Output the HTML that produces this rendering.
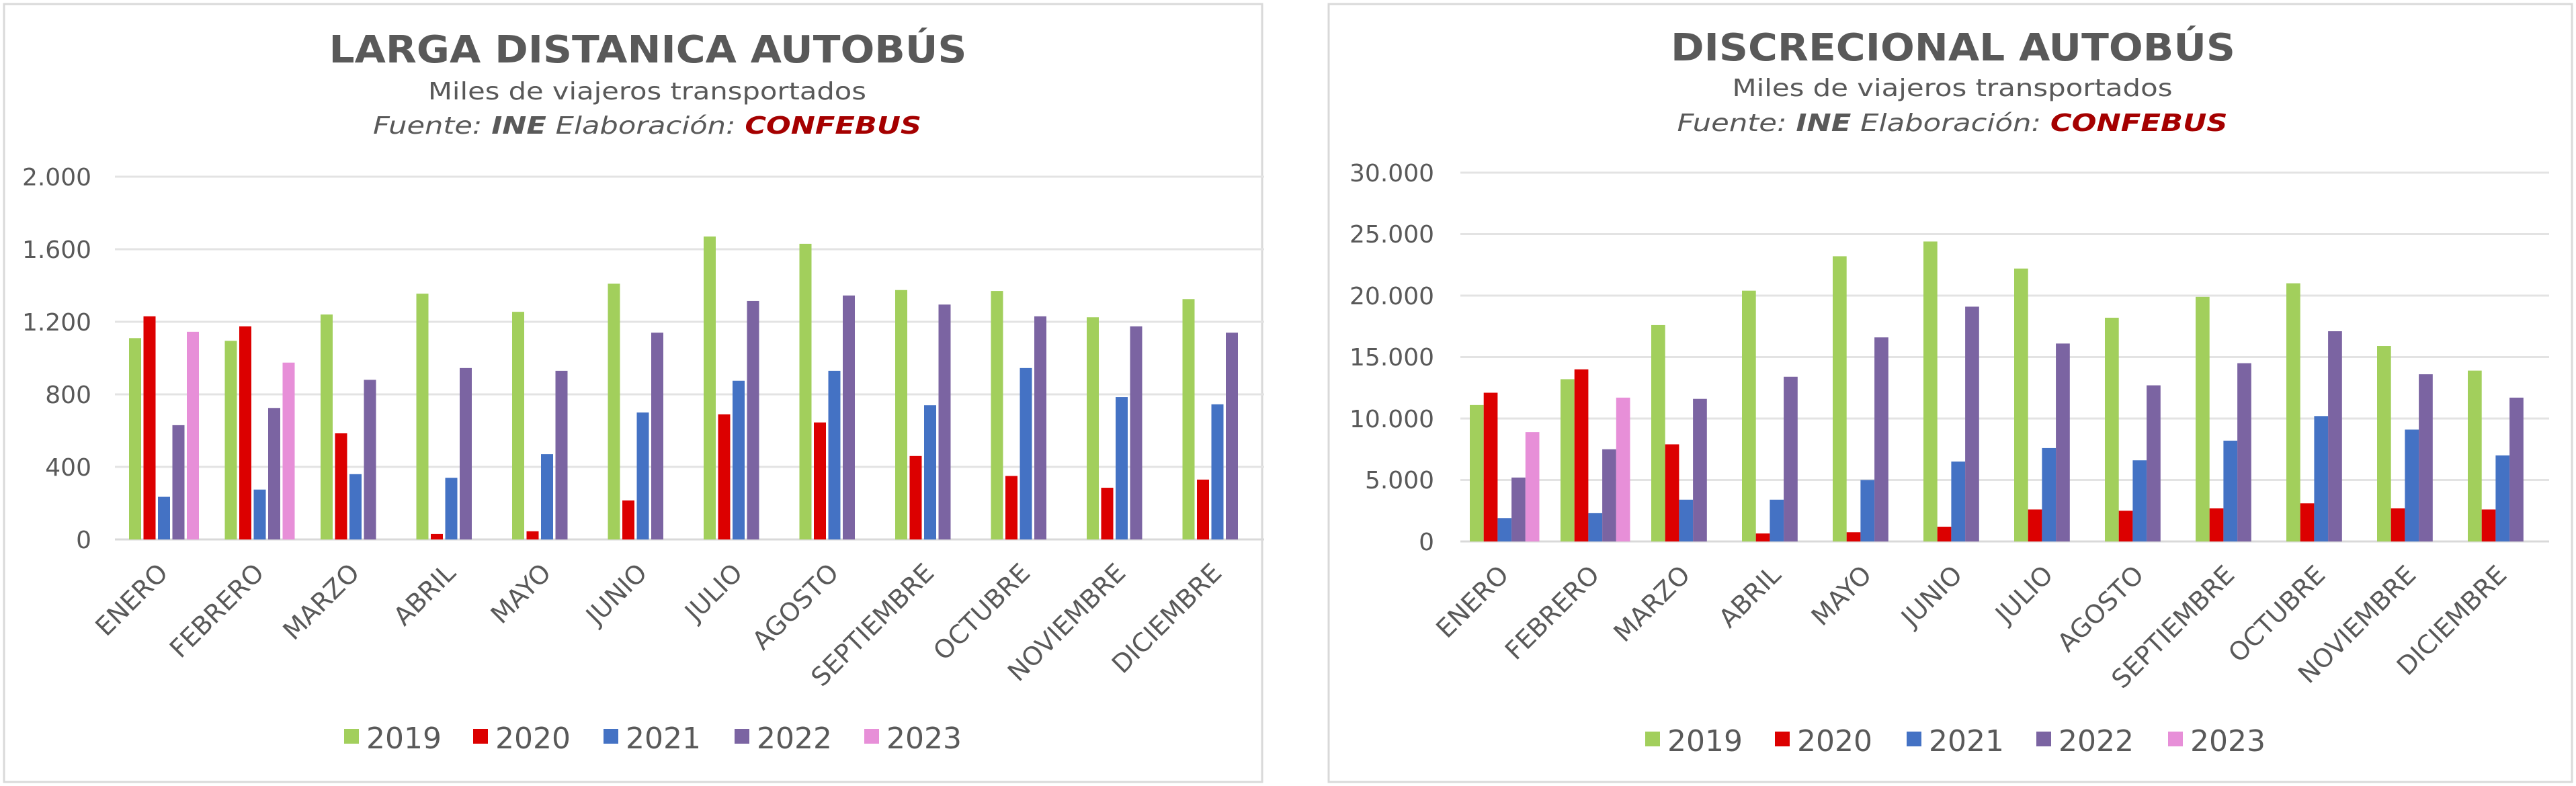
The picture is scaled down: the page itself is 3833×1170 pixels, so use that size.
<!DOCTYPE html>
<html><head><meta charset="utf-8"><style>
html,body{margin:0;padding:0;background:#fff}
svg{display:block}
text{font-family:"DejaVu Sans","Liberation Sans",sans-serif;fill:#595959}
</style></head><body>
<svg id="s" width="3833" height="1170" viewBox="0 0 3833 1170" xmlns="http://www.w3.org/2000/svg">
<rect x="0" y="0" width="3833" height="1170" fill="#fff"/>
<rect x="6" y="6" width="1872" height="1158" fill="#fff" stroke="#d9d9d9" stroke-width="3"/>
<rect x="1977" y="6" width="1850" height="1158" fill="#fff" stroke="#d9d9d9" stroke-width="3"/>
<g id="grid"></g>
<g id="bars"></g>
<text x="964" y="93" font-size="56" font-weight="bold" text-anchor="middle" textLength="949" lengthAdjust="spacingAndGlyphs">LARGA DISTANICA AUTOBÚS</text>
<text x="963" y="148" font-size="36" text-anchor="middle" textLength="652" lengthAdjust="spacingAndGlyphs">Miles de viajeros transportados</text>
<text x="963" y="199" font-size="36" font-style="italic" text-anchor="middle" textLength="816" lengthAdjust="spacingAndGlyphs">Fuente: <tspan font-weight="bold">INE</tspan>  Elaboración: <tspan font-weight="bold" style="fill:#a50000">CONFEBUS</tspan></text>
<text x="2906" y="90" font-size="56" font-weight="bold" text-anchor="middle" textLength="840" lengthAdjust="spacingAndGlyphs">DISCRECIONAL AUTOBÚS</text>
<text x="2905" y="143" font-size="36" text-anchor="middle" textLength="655" lengthAdjust="spacingAndGlyphs">Miles de viajeros transportados</text>
<text x="2905" y="195" font-size="36" font-style="italic" text-anchor="middle" textLength="819" lengthAdjust="spacingAndGlyphs">Fuente: <tspan font-weight="bold">INE</tspan>  Elaboración: <tspan font-weight="bold" style="fill:#a50000">CONFEBUS</tspan></text>
<g font-size="36" text-anchor="end">
<text x="136" y="276">2.000</text>
<text x="136" y="384">1.600</text>
<text x="136" y="492">1.200</text>
<text x="136" y="600">800</text>
<text x="136" y="708">400</text>
<text x="136" y="816">0</text>
<text x="2134" y="270">30.000</text>
<text x="2134" y="361">25.000</text>
<text x="2134" y="453">20.000</text>
<text x="2134" y="544">15.000</text>
<text x="2134" y="636">10.000</text>
<text x="2134" y="727">5.000</text>
<text x="2134" y="819">0</text>
</g>
<g font-size="38" text-anchor="end">
<text transform="translate(252,855) rotate(-45)">ENERO</text>
<text transform="translate(395,855) rotate(-45)">FEBRERO</text>
<text transform="translate(537,855) rotate(-45)">MARZO</text>
<text transform="translate(680,855) rotate(-45)">ABRIL</text>
<text transform="translate(822,855) rotate(-45)">MAYO</text>
<text transform="translate(965,855) rotate(-45)">JUNIO</text>
<text transform="translate(1107,855) rotate(-45)">JULIO</text>
<text transform="translate(1250,855) rotate(-45)">AGOSTO</text>
<text transform="translate(1392,855) rotate(-45)">SEPTIEMBRE</text>
<text transform="translate(1535,855) rotate(-45)">OCTUBRE</text>
<text transform="translate(1677,855) rotate(-45)">NOVIEMBRE</text>
<text transform="translate(1820,855) rotate(-45)">DICIEMBRE</text>
</g>
<g font-size="38" text-anchor="end">
<text transform="translate(2247,858) rotate(-45)">ENERO</text>
<text transform="translate(2382,858) rotate(-45)">FEBRERO</text>
<text transform="translate(2517,858) rotate(-45)">MARZO</text>
<text transform="translate(2652,858) rotate(-45)">ABRIL</text>
<text transform="translate(2787,858) rotate(-45)">MAYO</text>
<text transform="translate(2922,858) rotate(-45)">JUNIO</text>
<text transform="translate(3057,858) rotate(-45)">JULIO</text>
<text transform="translate(3192,858) rotate(-45)">AGOSTO</text>
<text transform="translate(3327,858) rotate(-45)">SEPTIEMBRE</text>
<text transform="translate(3462,858) rotate(-45)">OCTUBRE</text>
<text transform="translate(3597,858) rotate(-45)">NOVIEMBRE</text>
<text transform="translate(3732,858) rotate(-45)">DICIEMBRE</text>
</g>
<g font-size="44">
<rect x="512" y="1085" width="22" height="22" fill="#a2cf5c"/><text x="545" y="1114">2019</text>
<rect x="704" y="1085" width="22" height="22" fill="#dc0000"/><text x="737" y="1114">2020</text>
<rect x="898" y="1085" width="22" height="22" fill="#4472c4"/><text x="931" y="1114">2021</text>
<rect x="1093" y="1085" width="22" height="22" fill="#7b64a2"/><text x="1126" y="1114">2022</text>
<rect x="1286" y="1085" width="22" height="22" fill="#e78fd8"/><text x="1319" y="1114">2023</text>
<rect x="2448" y="1089" width="22" height="22" fill="#a2cf5c"/><text x="2481" y="1118">2019</text>
<rect x="2641" y="1089" width="22" height="22" fill="#dc0000"/><text x="2674" y="1118">2020</text>
<rect x="2837" y="1089" width="22" height="22" fill="#4472c4"/><text x="2870" y="1118">2021</text>
<rect x="3030" y="1089" width="22" height="22" fill="#7b64a2"/><text x="3063" y="1118">2022</text>
<rect x="3226" y="1089" width="22" height="22" fill="#e78fd8"/><text x="3259" y="1118">2023</text>
</g>
</svg>
<script>
var NS="http://www.w3.org/2000/svg";
var cols=["#a2cf5c","#dc0000","#4472c4","#7b64a2","#e78fd8"];
function r(g,x,y,w,h,f){var e=document.createElementNS(NS,"rect");e.setAttribute("x",x);e.setAttribute("y",y);e.setAttribute("width",w);e.setAttribute("height",h);e.setAttribute("fill",f);g.appendChild(e);}
var G=document.getElementById("grid"),B=document.getElementById("bars");
function chart(o){
 for(var i=0;i<=o.n;i++){var y=o.y0+(o.y1-o.y0)*i/o.n;r(G,o.x0,y-1.5,o.x1-o.x0,3,i==o.n?"#d9d9d9":"#e3e3e3");}
 var cw=(o.x1-o.x0)/12;
 for(var s=0;s<5;s++){var d=o.d[s];for(var m=0;m<d.length;m++){
  var h=d[m]/o.max*(o.y1-o.y0);var x=o.x0+m*cw+o.off+s*o.step;
  r(B,x,o.y1-h,o.w,h,cols[s]);}}
}
chart({x0:171,x1:1881,y0:263,y1:803,n:5,max:2000,off:21,step:21.5,w:18,d:[
[1110,1095,1240,1355,1255,1410,1670,1630,1375,1370,1225,1325],
[1230,1175,585,30,45,215,690,645,460,350,285,330],
[235,275,360,340,470,700,875,930,740,945,785,745],
[630,725,880,945,930,1140,1315,1345,1295,1230,1175,1140],
[1145,975]]});
chart({x0:2173,x1:3793,y0:257,y1:806,n:6,max:30000,off:14,step:20.7,w:20.7,d:[
[11100,13200,17600,20400,23200,24400,22200,18200,19900,21000,15900,13900],
[12100,14000,7900,650,750,1200,2600,2500,2700,3100,2700,2600],
[1900,2300,3400,3400,5000,6500,7600,6600,8200,10200,9100,7000],
[5200,7500,11600,13400,16600,19100,16100,12700,14500,17100,13600,11700],
[8900,11700]]});
</script>
</body></html>
